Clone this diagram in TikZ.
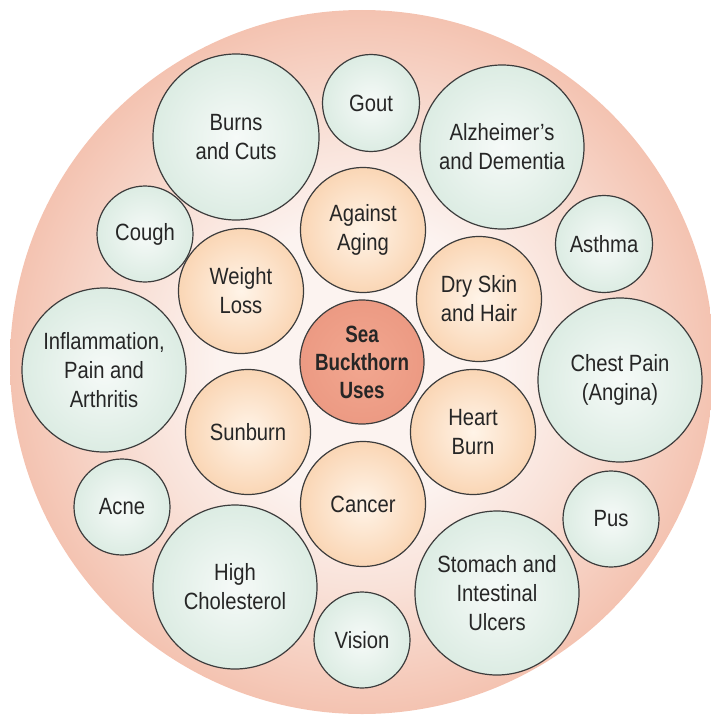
\documentclass[tikz,border=0pt]{standalone}
\usepackage{fontspec}
\setmainfont{Liberation Sans}[FakeStretch=0.86]
\newfontfamily\boldcond{Liberation Sans}[FakeStretch=0.8]
\definecolor{bgin}{HTML}{FCF3F0}
\definecolor{bgmid}{HTML}{F9E2D9}
\definecolor{bgout}{HTML}{F4C3B1}
\definecolor{gin}{HTML}{F6FAF8}
\definecolor{gout}{HTML}{DCECE3}
\definecolor{pin}{HTML}{FFF4E8}
\definecolor{pout}{HTML}{FAD6B5}
\definecolor{cin}{HTML}{F2A790}
\definecolor{cout}{HTML}{EC9A83}
\definecolor{bordc}{HTML}{3C3C3C}
\definecolor{txt}{HTML}{262626}
\pgfdeclareradialshading{bigbg}{\pgfpoint{0bp}{0bp}}{color(0bp)=(bgin); color(10bp)=(bgin); color(16bp)=(bgmid); color(25bp)=(bgout); color(50bp)=(bgout)}
\pgfdeclareradialshading{greenball}{\pgfpoint{0bp}{0bp}}{color(0bp)=(gin); color(25bp)=(gout); color(50bp)=(gout)}
\pgfdeclareradialshading{peachball}{\pgfpoint{0bp}{0bp}}{color(0bp)=(pin); color(25bp)=(pout); color(50bp)=(pout)}
\pgfdeclareradialshading{coreball}{\pgfpoint{0bp}{0bp}}{color(0bp)=(cin); color(25bp)=(cout); color(50bp)=(cout)}
\tikzset{
  ball/.style={circle, draw=bordc, line width=1.2pt, inner sep=0pt, align=center,
    text=txt, font=\fontsize{23.5}{29}\selectfont},
  greenc/.style={ball, shading=greenball, minimum size=#1},
  peachc/.style={ball, shading=peachball, minimum size=125pt},
  corec/.style={ball, shading=coreball, minimum size=124pt,
    font=\boldcond\bfseries\fontsize{23.5}{28}\selectfont},
}
\begin{document}
\begin{tikzpicture}[x=1pt,y=-1pt]
\useasboundingbox (0,0) rectangle (711,717);
\node[circle, minimum size=704pt, inner sep=0pt, shading=bigbg] (bg) at (362,362) {};
% outer ring (green)
\node[greenc=166pt] (burns) at (236,137) {Burns\\and Cuts};
\node[greenc=97pt] (gout) at (371,103) {Gout};
\node[greenc=164pt] (alz) at (502,147) {Alzheimer’s\\and Dementia};
\node[greenc=97pt] (asthma) at (604,244) {Asthma};
\node[greenc=164pt] (chest) at (620,380) {Chest Pain\\(Angina)};
\node[greenc=96pt] (pus) at (611,519) {Pus};
\node[greenc=164pt] (stomach) at (497,593) {Stomach and\\Intestinal\\Ulcers};
\node[greenc=96pt] (vision) at (362,640) {Vision};
\node[greenc=164pt] (chol) at (235,587) {High\\Cholesterol};
\node[greenc=96pt] (acne) at (122,507) {Acne};
\node[greenc=164pt] (infl) at (104,370) {Inflammation,\\Pain and\\Arthritis};
\node[greenc=96pt] (cough) at (145,234) {Cough};
% inner ring (peach)
\node[peachc] (aging) at (363,230) {Against\\Aging};
\node[peachc] (weight) at (241,291) {Weight\\Loss};
\node[peachc] (dry) at (479,299) {Dry Skin\\and Hair};
\node[peachc] (sunburn) at (248,432) {Sunburn};
\node[peachc] (heart) at (473,432) {Heart\\Burn};
\node[peachc] (cancer) at (363,504) {Cancer};
% centre
\node[corec] (core) at (362,362) {Sea\\Buckthorn\\Uses};
\end{tikzpicture}
\end{document}
